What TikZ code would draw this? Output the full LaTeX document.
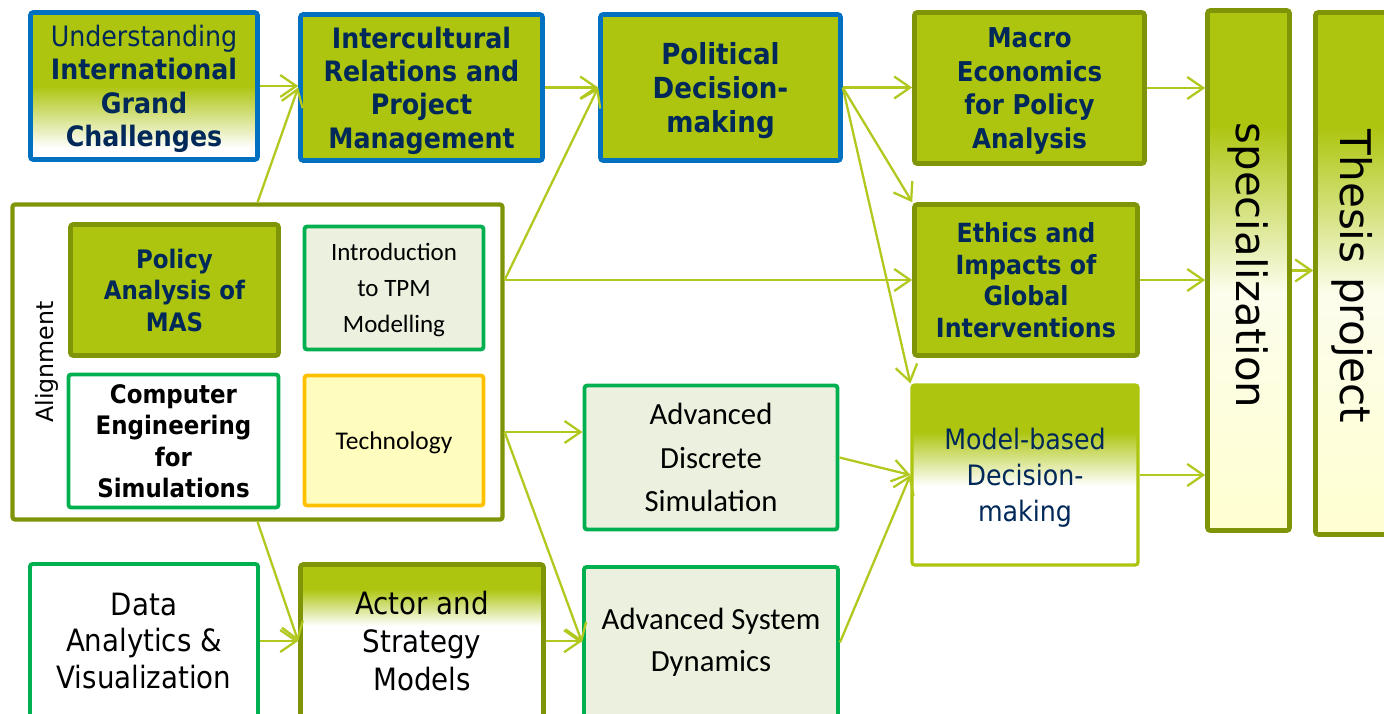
\documentclass[tikz,border=0pt]{standalone}
\usepackage{fontspec}
\setmainfont{DejaVu Sans}
\newfontfamily\condfont{DejaVu Sans Condensed}
\newfontfamily\calfont{Carlito}
\usetikzlibrary{arrows.meta,positioning,calc}

\definecolor{limec}{RGB}{173,197,15}
\definecolor{olivec}{RGB}{128,148,8}
\definecolor{bluec}{RGB}{0,112,192}
\definecolor{greenc}{RGB}{0,176,80}
\definecolor{orangec}{RGB}{255,192,0}
\definecolor{palegreen}{RGB}{235,241,222}
\definecolor{paley}{RGB}{255,253,190}
\definecolor{paleyb}{RGB}{255,255,208}
\definecolor{paleb}{RGB}{252,253,236}
\definecolor{navyc}{RGB}{0,40,88}
\definecolor{linkc}{RGB}{178,200,30}

% vertical fades, bottom (25bp) to top (75bp)
\pgfdeclareverticalshading{undfade}{100bp}{color(0bp)=(white); color(29bp)=(white); color(50bp)=(limec); color(100bp)=(limec)}
\pgfdeclareverticalshading{mbdfade}{100bp}{color(0bp)=(white); color(47bp)=(white); color(62bp)=(limec); color(100bp)=(limec)}
\pgfdeclareverticalshading{actfade}{100bp}{color(0bp)=(white); color(55bp)=(white); color(67bp)=(limec); color(100bp)=(limec)}
\pgfdeclareverticalshading{colfade}{100bp}{color(0bp)=(paleyb); color(25bp)=(paleyb); color(48bp)=(paleb); color(64bp)=(limec); color(100bp)=(limec)}

\begin{document}
\begin{tikzpicture}[x=0.2mm,y=-0.2mm,
box/.style={rectangle,draw,rounded corners=1.5pt,inner sep=0pt,align=center,line width=2.6pt},
navybox/.style={box,draw=bluec,fill=limec,text=navyc,text depth=0pt,font=\condfont\bfseries\fontsize{16}{19}\selectfont},
olivebox/.style={box,draw=olivec,fill=limec,text=navyc,font=\condfont\bfseries\fontsize{15}{18}\selectfont},
modbox/.style={box,draw=greenc,line width=2.2pt,fill=palegreen,font=\calfont\fontsize{17.5}{25}\selectfont},
colbox/.style={box,draw=olivec,shade,shading=colfade},
link/.style={draw=linkc,line width=1.3pt,-{Straight Barb[length=3.2mm,width=4.4mm]}}]
\useasboundingbox (0,0) rectangle (1384,714);
\clip (0,0) rectangle (1384,714);
\fill[white] (0,0) rectangle (1384,714);

% first year, top row
\node[navybox,draw=bluec,shade,shading=undfade,minimum width=45.4mm,minimum height=29.4mm] (und) at (144,86)
{{\mdseries Understanding}\\International\\Grand\\Challenges};
\node[navybox,minimum width=48.4mm,minimum height=29.2mm] (inter) at (421.5,87.5)
{Intercultural\\Relations and\\Project\\Management};
\node[navybox,font=\condfont\bfseries\fontsize{16.5}{19.5}\selectfont,minimum width=48mm,minimum height=29.2mm] (pol) at (720.5,87.5)
{Political\\Decision-\\making};

% alignment block
\node[box,draw=olivec,fill=white,line width=2.4pt,minimum width=98mm,minimum height=63mm] (align) at (257.5,362) {};
\node[rotate=90,font=\fontsize{13.5}{16}\selectfont] (alabel) at (47,362) {Alignment};
\node[olivebox,text depth=0pt,font=\condfont\bfseries\fontsize{14.5}{18}\selectfont,minimum width=41.6mm,minimum height=26.2mm] (pams) at (174.5,290)
{Policy\\Analysis of\\MAS};
\node[modbox,text depth=0pt,font=\calfont\fontsize{14.2}{20.5}\selectfont,minimum width=35.8mm,minimum height=24.6mm] (intro) at (394,288)
{Introduction\\to TPM\\Modelling};
\node[box,draw=greenc,line width=2.2pt,fill=white,text depth=0pt,font=\condfont\bfseries\fontsize{14.5}{18}\selectfont,minimum width=42mm,minimum height=26.6mm] (ces) at (173.5,441)
{Computer\\Engineering\\for\\Simulations};
\node[box,draw=orangec,line width=2.2pt,fill=paley,text depth=0pt,font=\calfont\fontsize{14.5}{17}\selectfont,minimum width=35.8mm,minimum height=26mm] (tech) at (394,440.5)
{Technology};

% modelling courses
\node[modbox,minimum width=50.6mm,minimum height=28.8mm] (ads) at (711,457.5)
{Advanced\\Discrete\\Simulation};
\node[box,draw=greenc,line width=2.2pt,fill=white,font=\condfont\fontsize{17.5}{21}\selectfont,minimum width=45.6mm,minimum height=30.8mm] (data) at (144,641)
{Data\\Analytics \&\\Visualization};
\node[box,draw=olivec,shade,shading=actfade,font=\condfont\fontsize{17.5}{21.5}\selectfont,minimum width=48.6mm,minimum height=30.7mm] (actor) at (422,641.25)
{Actor and\\Strategy\\Models};
\node[modbox,font=\calfont\fontsize{17.5}{24}\selectfont,minimum width=50.8mm,minimum height=30.2mm] (asd) at (711,642.5)
{Advanced System\\Dynamics};

% second year
\node[olivebox,text depth=0pt,font=\condfont\bfseries\fontsize{15.5}{19}\selectfont,minimum width=46mm,minimum height=30.2mm] (macro) at (1029.5,88)
{Macro\\Economics\\for Policy\\Analysis};
\node[olivebox,minimum width=44.6mm,minimum height=30.2mm] (ethics) at (1026,280)
{Ethics and\\Impacts of\\Global\\Interventions};
\node[box,draw=limec,line width=1.8pt,shade,shading=mbdfade,text=navyc,text depth=0pt,font=\condfont\fontsize{16}{20.4}\selectfont,minimum width=45.2mm,minimum height=36mm] (mbd) at (1025,475)
{Model-based\\Decision-\\making};

% specialization and thesis
\node[colbox,minimum width=16.4mm,minimum height=104mm,
label={[rotate=-90,font=\fontsize{23.8}{24}\selectfont,xshift=-1mm]center:specialization}] (spec) at (1248.5,270.5) {};
\node[colbox,minimum width=14.5mm,minimum height=104.4mm,
label={[rotate=-90,font=\fontsize{24}{24}\selectfont,xshift=0.6mm]center:Thesis project}] (thesis) at (1351.75,273.5) {};

% connectors
\coordinate (aout) at ($(align.east)+(0,70)$);
\draw[link] (und.east) -- (und.east -| inter.west);
\draw[link] (align.north) -- (inter.west);
\draw[link] (inter.east) -- (inter.east -| pol.west);
\draw[link] (align.east |- ethics.west) -- (pol.west);
\draw[link] (align.east |- ethics.west) -- (ethics.west);
\draw[link] (pol.east) -- (pol.east -| macro.west);
\draw[link] (pol.east) -- (ethics.north west);
\draw[link] (pol.east) -- (mbd.north west);
\foreach \n in {macro,ethics,mbd}
{\draw[link] (\n.east) -- (\n.east -| spec.west);}
\draw[link] (spec.east) -- (spec.east -| thesis.west);
\draw[link] (aout) -- (aout -| ads.west);
\draw[link] (aout) -- (asd.west);
\draw[link] (align.south) -- (actor.west);
\draw[link] (data.east) -- (data.east -| actor.west);
\draw[link] (actor.east) -- (actor.east -| asd.west);
\draw[link] (ads.east) -- (mbd.west);
\draw[link] (asd.east) -- (mbd.west);
\end{tikzpicture}
\end{document}
